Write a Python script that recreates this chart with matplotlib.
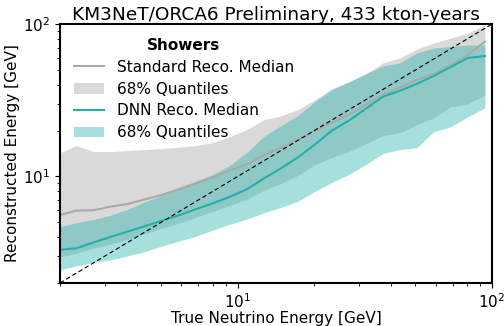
import matplotlib
matplotlib.use("Agg")
import matplotlib.pyplot as plt

# Bin centres in true neutrino energy [GeV]
e_true = [2.0, 2.32, 2.71, 3.16, 3.69, 4.30, 5.02, 5.86, 6.83, 7.97, 9.30,
          10.85, 12.66, 14.77, 17.23, 20.10, 23.45, 27.35, 31.91, 37.23,
          43.43, 50.67, 59.11, 68.96, 80.45, 93.85]

# Standard reconstruction: median and 68% band
std_median = [5.59, 5.97, 6.00, 6.34, 6.59, 7.07, 7.57, 8.22, 9.00, 9.85, 10.95,
              11.98, 13.72, 15.47, 17.45, 19.98, 22.54, 25.42, 29.55, 34.35,
              38.16, 43.05, 47.12, 53.95, 62.72, 76.85]
std_low = [2.96, 3.14, 3.38, 3.59, 3.88, 4.21, 4.57, 4.93, 5.40, 5.90, 6.46,
           7.07, 8.10, 9.00, 10.15, 11.98, 13.31, 14.57, 16.43, 18.53,
           19.39, 21.87, 24.30, 28.68, 30.00, 34.35]
std_high = [14.35, 15.95, 14.57, 14.57, 14.79, 15.01, 15.24, 15.59, 15.95, 16.68, 18.26,
            20.29, 23.58, 25.04, 27.41, 31.86, 37.60, 41.78, 47.12, 55.63,
            59.95, 68.64, 75.13, 80.99, 87.33, 98.5]

# DNN reconstruction: median and 68% band
dnn_median = [3.30, 3.38, 3.69, 4.01, 4.35, 4.71, 5.12, 5.56, 6.09, 6.66, 7.35,
              8.22, 9.70, 11.28, 13.31, 16.19, 19.98, 23.23, 27.83, 33.34,
              36.49, 40.54, 45.72, 52.36, 59.95, 61.78]
dnn_low = [2.44, 2.59, 2.73, 2.83, 3.01, 3.21, 3.49, 3.76, 4.05, 4.44, 4.86,
           5.24, 5.77, 6.27, 6.86, 7.98, 9.14, 10.31, 11.98, 14.14,
           15.01, 15.47, 19.68, 21.22, 24.67, 28.25]
dnn_high = [4.69, 4.98, 5.21, 5.56, 6.09, 6.81, 7.51, 8.48, 9.28, 10.31, 11.80,
            14.35, 18.26, 21.54, 25.04, 30.92, 37.03, 41.78, 47.12, 53.15,
            55.63, 64.63, 69.67, 71.26, 72.89, 72.89]

fig = plt.figure(figsize=(5.04, 3.26), dpi=100)
ax = fig.add_axes([0.119, 0.132, 0.857, 0.794])

ax.plot(e_true, std_median, color="darkgray", lw=1.5, label="Standard Reco. Median")
ax.fill_between(e_true, std_low, std_high, color="#d9d9d9", lw=0, label="68% Quantiles")
ax.plot(e_true, dnn_median, color="lightseagreen", lw=1.5, label="DNN Reco. Median")
ax.fill_between(e_true, dnn_low, dnn_high, color="lightseagreen", alpha=0.4, lw=0,
                label="68% Quantiles")

# perfect reconstruction diagonal
ax.plot([2, 100], [2, 100], color="black", ls="--", lw=0.8, dashes=(4, 2.5))

ax.set_xscale("log")
ax.set_yscale("log")
ax.set_xlim(2, 100)
ax.set_ylim(2, 100)

ax.set_xlabel("True Neutrino Energy [GeV]", fontsize=11, labelpad=0)
ax.set_ylabel("Reconstructed Energy [GeV]", fontsize=11, labelpad=2)
ax.set_title("KM3NeT/ORCA6 Preliminary, 433 kton-years", fontsize=13.3, pad=2)
ax.tick_params(labelsize=11)
for s in ax.spines.values():
    s.set_linewidth(1.5)

leg = ax.legend(loc="upper left", frameon=False, fontsize=11, title="Showers",
                title_fontproperties={"weight": "bold", "size": 11},
                labelspacing=0.45, borderaxespad=0.5)

fig.savefig("out.png", dpi=100)
